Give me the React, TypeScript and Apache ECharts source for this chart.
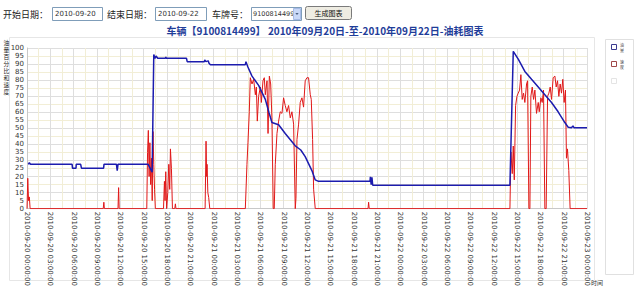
import React, { useEffect, useRef } from "react";
import * as echarts from "echarts";

// hours since 2010-09-20 00:00:00
const tickLabels = [
  "2010-09-20 00:00:00", "2010-09-20 03:00:00", "2010-09-20 06:00:00", "2010-09-20 09:00:00",
  "2010-09-20 12:00:00", "2010-09-20 15:00:00", "2010-09-20 18:00:00", "2010-09-20 21:00:00",
  "2010-09-21 00:00:00", "2010-09-21 03:00:00", "2010-09-21 06:00:00", "2010-09-21 09:00:00",
  "2010-09-21 12:00:00", "2010-09-21 15:00:00", "2010-09-21 18:00:00", "2010-09-21 21:00:00",
  "2010-09-22 00:00:00", "2010-09-22 03:00:00", "2010-09-22 06:00:00", "2010-09-22 09:00:00",
  "2010-09-22 12:00:00", "2010-09-22 15:00:00", "2010-09-22 18:00:00", "2010-09-22 21:00:00",
  "2010-09-23 00:00:00",
];

const fuelHours = [0.17, 0.3, 0.45, 5.8, 5.85, 6.3, 6.33, 6.9, 7.0, 9.85, 9.9, 11.5, 11.6, 11.7, 15.58, 16.09, 16.3, 16.45, 16.6, 16.8, 17.8, 17.85, 17.9, 20.5, 20.6, 22.8, 22.85, 23.0, 23.3, 23.4, 23.58, 28.07, 28.15, 28.4, 28.93, 29.78, 30.64, 31.1, 31.49, 32.35, 33.2, 34.49, 35.2, 35.77, 36.63, 37.06, 37.48, 44.1, 44.15, 44.25, 44.35, 44.45, 62.09, 62.52, 63.16, 64.01, 64.87, 65.73, 66.58, 67.44, 68.29, 69.15, 69.58, 70.0, 70.2, 70.35, 72];
const fuelValues = [27.6, 28.6, 27.6, 27.6, 25.2, 25.2, 27.6, 27.6, 25.2, 25.2, 27.6, 27.6, 23.7, 27.6, 27.6, 22.7, 96, 93.6, 95, 93.6, 93.6, 94.5, 93.6, 93.6, 91.5, 91.5, 92.5, 91.5, 92, 90.5, 89.6, 89.6, 91.5, 88.2, 82.5, 76.7, 68, 60, 53.6, 52.2, 46.8, 39.1, 36.5, 32.4, 23.7, 17.9, 17.0, 17, 19.8, 15, 19.5, 14.6, 14.6, 97.9, 93.1, 85.4, 80.5, 75.7, 70.9, 66.1, 60.3, 53.6, 50.7, 50.3, 51.5, 50.3, 50.3];

const speedPoints = [
  [0, 0], [0.1, 18.9], [0.2, 5], [0.3, 7.3], [0.4, 0], [9.8, 0], [9.88, 4], [9.95, 0], [11.7, 0], [11.78, 13.1], [11.85, 0],
  [15.4, 0], [15.5, 35], [15.6, 48.7], [15.7, 20], [15.8, 41], [15.9, 15], [16.0, 31.4], [16.1, 5], [16.2, 48], [16.3, 27.6], [16.4, 12.1], [16.5, 0],
  [17.55, 0], [17.67, 17], [17.75, 5], [17.84, 23], [17.95, 0], [18.1, 10], [18.23, 27.6], [18.35, 12], [18.44, 37.2], [18.57, 25], [18.7, 0],
  [19.0, 0], [19.08, 3], [19.15, 0], [22.9, 0], [23.02, 42], [23.1, 20], [23.15, 27.6], [23.25, 10], [23.36, 7], [23.5, 0],
  [28.07, 0], [28.28, 27.6], [28.41, 41], [28.58, 60.3], [28.71, 81.5], [28.93, 77.6], [29.14, 80.5], [29.36, 70.9], [29.49, 75.7], [29.61, 54.5],
  [29.78, 69.9], [30.0, 75.7], [30.13, 66.1], [30.34, 79.6], [30.51, 81.5], [30.64, 70.9], [30.86, 79.6], [30.99, 46.8], [31.16, 82.5], [31.33, 77.6],
  [31.49, 56.5], [31.66, 0], [31.79, 0], [31.92, 27.6], [32.14, 46.8], [32.35, 54.5], [32.56, 60.3], [32.78, 59.3], [32.99, 69], [33.2, 64.2],
  [33.42, 60.3], [33.63, 64.2], [33.85, 56.5], [34.06, 60.3], [34.28, 52.6], [34.49, 0], [34.58, 6.4], [34.71, 43], [34.92, 52.6], [35.13, 66.1],
  [35.35, 69], [35.56, 63.2], [35.77, 79.6], [35.99, 81.5], [36.2, 81.5], [36.42, 70.9], [36.55, 68], [36.72, 43], [36.85, 12.1], [37.06, 0],
  [43.85, 0], [43.92, 4], [44.0, 0],
  [62.09, 0], [62.22, 35.3], [62.39, 21.8], [62.52, 39], [62.65, 17.9], [62.82, 64.2], [62.99, 69.9], [63.16, 71.9], [63.33, 73.8], [63.5, 83.4],
  [63.67, 68], [63.84, 71.9], [64.01, 66.1], [64.23, 77.6], [64.36, 79.6], [64.53, 0], [64.66, 0], [64.78, 69.9], [64.96, 75.7], [65.13, 68],
  [65.3, 73.8], [65.51, 59.3], [65.73, 66.1], [65.86, 60.3], [66.07, 69], [66.24, 66.1], [66.41, 73.8], [66.58, 0], [66.75, 0], [66.93, 69.9],
  [67.1, 71.9], [67.27, 75.7], [67.44, 68], [67.65, 81.5], [67.87, 82.5], [68.04, 75.7], [68.21, 79.6], [68.38, 69.9], [68.55, 77.6], [68.72, 71.9],
  [68.89, 80.5], [69.06, 66.1], [69.23, 73.8], [69.36, 31.4], [69.49, 37.2], [69.66, 23.7], [69.83, 0], [72, 0],
];

const formLabels = ["开始日期：", "结束日期：", "车牌号："];
const startDate = "2010-09-20";
const endDate = "2010-09-22";
const plate = "9100814499";
const buttonText = "生成图表";
const titleText = "车辆【9100814499】 2010年09月20日-至-2010年09月22日-油耗图表";
const yAxisTitle = "油量百分比和速度";
const legendNames = ["油量", "速度"];
const xAxisTitle = "时间";

const CJK = '"Noto Sans CJK SC", sans-serif';
const LAT = '"DejaVu Sans", sans-serif';

export default function App() {
  const ref = useRef<HTMLDivElement>(null);
  useEffect(() => {
    const chart = echarts.init(ref.current!, null, { renderer: "svg" });
    const fuel = fuelHours.map((h, i) => [h, fuelValues[i]]);
    const txt = (x: number, y: number, text: string, font: string, fill = "#222", align = "left") => ({
      type: "text", x, y, silent: true,
      style: { text, font, fill, textAlign: align, textVerticalAlign: "middle" },
    });
    const stacked = (x: number, y0: number, step: number, text: string, font: string, fill: string) =>
      text.split("").map((ch, i) => txt(x, y0 + i * step, ch, font, fill, "center"));
    const graphic: any[] = [
      // form row
      txt(3, 14, formLabels[0], `9px ${CJK}`),
      { type: "rect", shape: { x: 52.5, y: 7.5, width: 50, height: 13 }, style: { fill: "#fff", stroke: "#7f9db9" } },
      txt(55, 14, startDate, `7px ${LAT}`, "#333"),
      txt(107, 14, formLabels[1], `9px ${CJK}`),
      { type: "rect", shape: { x: 155.5, y: 7.5, width: 51, height: 13 }, style: { fill: "#fff", stroke: "#7f9db9" } },
      txt(158, 14, endDate, `7px ${LAT}`, "#333"),
      txt(212, 14, formLabels[2], `9px ${CJK}`),
      { type: "rect", shape: { x: 251.5, y: 7.5, width: 50, height: 13 }, style: { fill: "#fff", stroke: "#7f9db9" } },
      txt(253, 14, plate, `6.5px ${LAT}`, "#333"),
      { type: "rect", shape: { x: 293.5, y: 8.5, width: 7, height: 11 }, style: { fill: "#c9d8f7", stroke: "#a7bbe6" } },
      { type: "polygon", shape: { points: [[295.3, 13], [298.7, 13], [297, 15]] }, style: { fill: "#4d6185" } },
      { type: "rect", shape: { x: 305.5, y: 6.5, width: 46, height: 13, r: 2 }, style: { fill: "#eeece2", stroke: "#7a7a7a" } },
      txt(328.5, 13, buttonText, `7px ${CJK}`, "#111", "center"),
      // title
      txt(325, 30.5, titleText, `bold 10px ${CJK}`, "#1f3d99", "center"),
      // chart panel & legend panel
      { type: "rect", shape: { x: 9.5, y: 37.5, width: 585, height: 243 }, style: { fill: "none", stroke: "#e6e6e6" }, z: -1 },
      { type: "rect", shape: { x: 605.5, y: 39.5, width: 28, height: 235 }, style: { fill: "none", stroke: "#e0e0e0" } },
      { type: "rect", shape: { x: 611.5, y: 44.5, width: 5, height: 5 }, style: { fill: "#fff", stroke: "#3b3b8f" } },
      ...stacked(622, 45, 5, legendNames[0], `4px ${CJK}`, "#444"),
      { type: "rect", shape: { x: 611.5, y: 61.5, width: 5, height: 5 }, style: { fill: "#fff", stroke: "#a04848" } },
      ...stacked(622, 62, 5, legendNames[1], `4px ${CJK}`, "#444"),
      { type: "rect", shape: { x: 611.5, y: 78.5, width: 5, height: 5 }, style: { fill: "#fff", stroke: "#e4e4e4" } },
      // y axis title (vertical)
      ...stacked(6.5, 42, 7, yAxisTitle, `5.8px ${CJK}`, "#222"),
      txt(591, 282, xAxisTitle, `6px ${CJK}`, "#333"),
    ];
    chart.setOption({
      animation: false,
      backgroundColor: "#fff",
      grid: { left: 27, right: 53, top: 48, bottom: 68, containLabel: false },
      xAxis: {
        type: "value", min: 0, max: 72, interval: 1.5,
        axisLine: { show: true, lineStyle: { color: "#c8c8c8" } },
        axisTick: { show: false },
        axisLabel: {
          rotate: -90, fontSize: 7, color: "#333", margin: 3, fontFamily: LAT,
          showMinLabel: true, showMaxLabel: true,
          formatter: (v: number) => (Math.abs(v / 3 - Math.round(v / 3)) < 1e-6 ? tickLabels[Math.round(v / 3)] : ""),
        },
        splitLine: { show: true, lineStyle: { color: ["#dedede", "#f2eed6"], width: 1 } },
      },
      yAxis: {
        type: "value", min: 0, max: 100, interval: 5,
        axisLine: { show: true, lineStyle: { color: "#c8c8c8" } },
        axisTick: { show: false },
        axisLabel: { fontSize: 7, color: "#333", margin: 3, fontFamily: LAT },
        splitLine: { show: true, lineStyle: { color: ["#dedede", "#f2eed6"], width: 1 } },
      },
      series: [
        { type: "line", name: legendNames[1], data: speedPoints, showSymbol: false, lineStyle: { color: "#e01818", width: 1 }, z: 2 },
        { type: "line", name: legendNames[0], data: fuel, showSymbol: false, lineStyle: { color: "#1c1cae", width: 1.5 }, z: 3 },
      ],
      graphic,
    });
    return () => chart.dispose();
  }, []);
  return <div ref={ref} style={{ position: "fixed", left: 0, top: 0, width: 640, height: 289 }} />;
}
